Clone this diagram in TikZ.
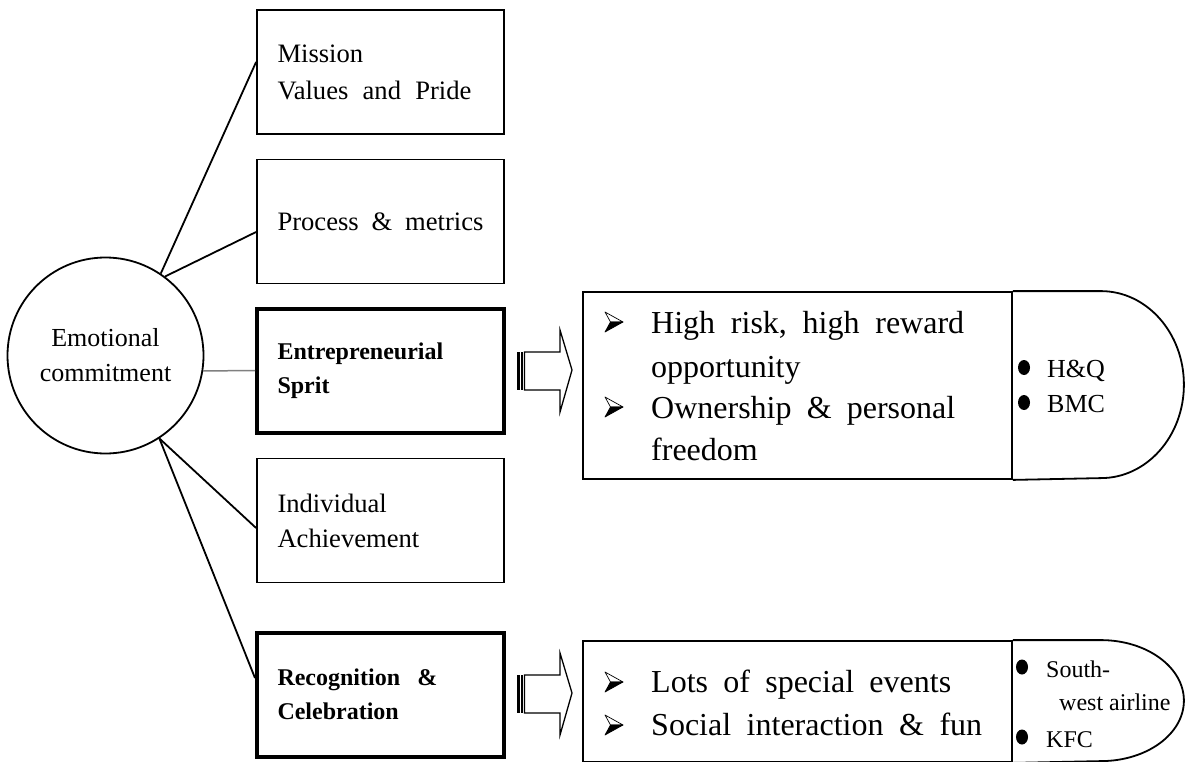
\documentclass[tikz,border=0pt]{standalone}
\usepackage{fontspec}
\setmainfont{Liberation Serif}
\newcommand\fsz[2]{\fontsize{#1}{#2}\selectfont}
\tikzset{
  thinline/.style={line width=1.8pt},
  sidebox/.style={draw, thinline, rectangle, minimum width=247pt, minimum height=124pt,
    inner sep=0pt, text width=206pt, align=left, font=\fsz{26.6}{37}},
  boldbox/.style={sidebox, line width=4pt, font=\fsz{24}{34}\bfseries},
  listbox/.style={draw, thinline, rectangle, minimum width=429pt, inner sep=0pt},
  link/.style={thinline},
  softlink/.style={line width=1.5pt, draw=black!50},
  txt/.style={inner sep=0pt, anchor=base west},
  bigtxt/.style={txt, font=\fsz{32}{40}},
  smalltxt/.style={txt, font=\fsz{26}{34}},
  tinytxt/.style={txt, font=\fsz{24}{32}},
  stripedarrow/.pic={
    \fill (0,-18.5) rectangle (2.6,19.5);
    \fill (4.4,-18.5) rectangle (5.8,19.5);
    \draw[line width=1.3pt, fill=white, line join=miter]
      (7.5,-18) -- (43,-18) -- (43,-40) -- (55,0) -- (43,42) -- (43,20) -- (7.5,20) -- cycle;
  },
  tipbullet/.pic={
    \filldraw[line width=0.7pt, fill=white, line join=round] (-9,-10) -- (9,0) -- (-3.5,0) -- cycle;
    \filldraw[line width=0.7pt, line join=round] (-3.5,0) -- (9,0) -- (-9,10) -- cycle;
  },
  dotmark/.style={fill=black},
}
\begin{document}
\begin{tikzpicture}[x=1pt, y=-1pt]
\useasboundingbox (0,0) rectangle (1185,762);

% central circle
\node[draw, thinline, circle, minimum size=196pt, inner sep=0pt, align=center,
      font=\fsz{26}{35}] (emo) at (105.5,355.5) {Emotional\\commitment};

% column of factors (justified lines spread with \hfill)
\node[sidebox] (b1) at (380.5,72) {Mission\\\makebox[194pt]{Values\hfill and\hfill Pride}};
\node[sidebox] (b2) at (380.5,221.5) {\makebox[206pt]{Process\hfill\&\hfill metrics}};
\node[boldbox] (b3) at (380.5,370.5) {Entrepreneurial\\Sprit};
\node[sidebox, font=\fsz{26.6}{35}] (b4) at (380.5,520.5) {Individual\\Achievement};
\node[boldbox] (b5) at (380.5,694.5) {\makebox[160pt]{Recognition\hfill\&}\\Celebration};

% spokes
\draw[link] ([yshift=10pt]b1.west) -- (emo.56.7);
\draw[link] ([yshift=-10.5pt]b2.west) -- (emo.53.2);
\draw[softlink] (emo.-9.1) -- (b3.west);
\draw[link] ([yshift=-7.5pt]b4.west) -- (emo.-57);
\draw[link] ([yshift=16.5pt]b5.west) -- (emo.-57);

% striped block arrows
\pic at (517,370) {stripedarrow};
\pic at (517,693) {stripedarrow};

% upper detail box
\node[listbox, minimum height=187pt] (ent) at (797.5,385.5) {};
\draw[thinline] (ent.north east) -- ++(88,0)
  arc[start angle=-90, end angle=90, x radius=83, y radius=93.5] -- (ent.south east);
\pic at (614,322) {tipbullet};
\pic at (614,407) {tipbullet};
\node[bigtxt] (e1) at (651,333) {\makebox[313pt]{High\hfill risk,\hfill high\hfill reward}};
\node[bigtxt] (e2) at (651,377) {opportunity};
\node[bigtxt] (e3) at (651,418) {\makebox[304pt]{Ownership\hfill\&\hfill personal}};
\node[bigtxt] (e4) at (651,460) {freedom};
\fill[dotmark] (1024,367.5) ellipse[x radius=6, y radius=7.5];
\fill[dotmark] (1024,402.5) ellipse[x radius=6, y radius=7.5];
\node[smalltxt] (c1) at (1047,377) {H\&Q};
\node[smalltxt] (c2) at (1047,412) {BMC};

% lower detail box
\node[listbox, minimum height=121pt] (rec) at (797.5,701.5) {};
\draw[thinline] (rec.north east) -- ++(88,0)
  arc[start angle=-90, end angle=90, x radius=83, y radius=60.5] -- (rec.south east);
\pic at (614,682) {tipbullet};
\pic at (614,725) {tipbullet};
\node[bigtxt] (r1) at (651,692) {\makebox[300pt]{Lots\hfill of\hfill special\hfill events}};
\node[bigtxt] (r2) at (651,735) {\makebox[331pt]{Social\hfill interaction\hfill\&\hfill fun}};
\fill[dotmark] (1022,667) ellipse[x radius=6, y radius=7.5];
\fill[dotmark] (1022,737) ellipse[x radius=6, y radius=7.5];
\node[tinytxt] (s1) at (1046,677) {South-};
\node[tinytxt] (s2) at (1059,710) {west airline};
\node[tinytxt] (s3) at (1046,747) {KFC};
\end{tikzpicture}
\end{document}
